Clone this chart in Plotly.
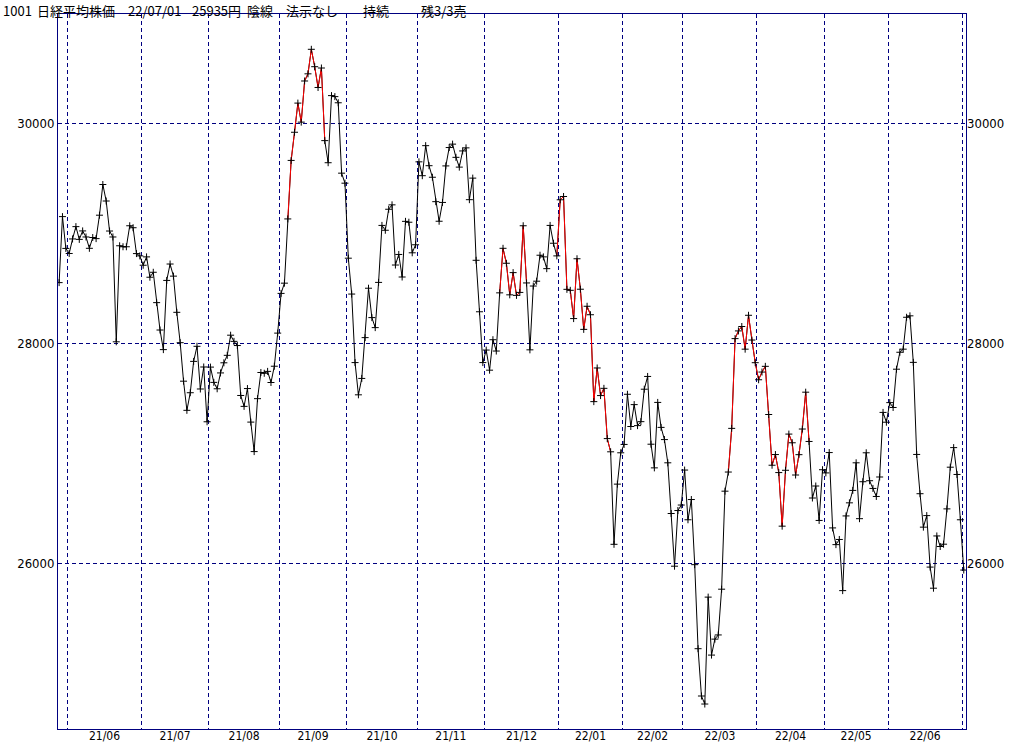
import plotly.graph_objects as go

# ---- data: Nikkei 225 daily closes (yen) ----
may21_days = [27, 28, 31]
may21 = [28549, 29149, 28860]
jun21_days = [1, 2, 3, 4, 7, 8, 9, 10, 11, 14, 15, 16, 17, 18, 21, 22, 23, 24, 25, 28, 29, 30]
jun21 = [28814, 28946, 29058, 28942, 29019, 28964, 28861, 28959, 28949, 29162, 29441, 29291, 29018, 28964,
         28011, 28884, 28875, 28875, 29066, 29048, 28813, 28792]
jul21_days = [1, 2, 5, 6, 7, 8, 9, 12, 13, 14, 15, 16, 19, 20, 21, 26, 27, 28, 29, 30]
jul21 = [28707, 28783, 28598, 28643, 28367, 28118, 27940, 28569, 28718, 28608, 28279, 28003, 27653, 27388,
         27548, 27833, 27970, 27582, 27782, 27284]
aug21_days = [2, 3, 4, 5, 6, 10, 11, 12, 13, 16, 17, 18, 19, 20, 23, 24, 25, 26, 27, 30, 31]
aug21 = [27781, 27642, 27584, 27728, 27820, 27888, 28071, 28015, 27977, 27523, 27424, 27586, 27281, 27013,
         27494, 27732, 27725, 27742, 27641, 27789, 28090]
sep21_days = [1, 2, 3, 6, 7, 8, 9, 10, 13, 14, 15, 16, 17, 21, 22, 24, 27, 28, 29, 30]
sep21 = [28451, 28544, 29128, 29660, 29916, 30181, 30008, 30382, 30447, 30670, 30512, 30323, 30500, 29840,
         29639, 30249, 30240, 30184, 29544, 29453]
oct21_days = [1, 4, 5, 6, 7, 8, 11, 12, 13, 14, 15, 18, 19, 20, 21, 22, 25, 26, 27, 28, 29]
oct21 = [28771, 28445, 27822, 27529, 27678, 28049, 28498, 28231, 28140, 28551, 29069, 29025, 29216, 29256,
         28709, 28805, 28600, 29106, 29098, 28820, 28893]
nov21_days = [1, 2, 4, 5, 8, 9, 10, 11, 12, 15, 16, 17, 18, 19, 22, 24, 25, 26, 29, 30]
nov21 = [29647, 29521, 29794, 29612, 29507, 29285, 29107, 29278, 29610, 29777, 29808, 29688, 29599, 29746,
         29774, 29303, 29499, 28752, 28284, 27822]
dec21_days = [1, 2, 3, 6, 7, 8, 9, 10, 13, 14, 15, 16, 17, 20, 21, 22, 23, 24, 27, 28, 29, 30]
dec21 = [27936, 27753, 28030, 27927, 28456, 28861, 28725, 28438, 28640, 28433, 28460, 29066, 28546, 27938,
         28518, 28562, 28798, 28783, 28676, 29069, 28907, 28792]
jan22_days = [4, 5, 6, 7, 11, 12, 13, 14, 17, 18, 19, 20, 21, 24, 25, 26, 27, 28, 31]
jan22 = [29302, 29332, 28488, 28479, 28222, 28766, 28489, 28124, 28334, 28257, 27467, 27773, 27522, 27588,
         27131, 27011, 26170, 26717, 27002]
feb22_days = [1, 2, 3, 4, 7, 8, 9, 10, 14, 15, 16, 17, 18, 21, 22, 24, 25, 28]
feb22 = [27078, 27534, 27241, 27440, 27249, 27285, 27580, 27696, 27080, 26865, 27460, 27233, 27122, 26911,
         26450, 25971, 26477, 26527]
mar22_days = [1, 2, 3, 4, 7, 8, 9, 10, 11, 14, 15, 16, 17, 18, 22, 23, 24, 25, 28, 29, 30, 31]
mar22 = [26845, 26393, 26577, 25985, 25221, 24791, 24718, 25690, 25163, 25308, 25346, 25762, 26653, 26827,
         27224, 28040, 28110, 28150, 27944, 28252, 28027, 27821]
apr22_days = [1, 4, 5, 6, 7, 8, 11, 12, 13, 14, 15, 18, 19, 20, 21, 22, 25, 26, 27, 28]
apr22 = [27666, 27736, 27788, 27350, 26889, 26986, 26822, 26335, 26843, 27172, 27093, 26800, 26985, 27218,
         27553, 27105, 26591, 26700, 26387, 26848]
may22_days = [2, 6, 9, 10, 11, 12, 13, 16, 17, 18, 19, 20, 23, 24, 25, 26, 27, 30, 31]
may22 = [26819, 27004, 26319, 26167, 26214, 25749, 26428, 26547, 26660, 26911, 26403, 26739, 27002, 26748,
         26678, 26605, 26782, 27369, 27280]
jun22_days = [1, 2, 3, 6, 7, 8, 9, 10, 13, 14, 15, 16, 17, 20, 21, 22, 23, 24, 27, 28, 29, 30]
jun22 = [27458, 27414, 27762, 27916, 27944, 28234, 28247, 27824, 26987, 26630, 26326, 26431, 25963, 25771,
         26246, 26150, 26171, 26492, 26871, 27049, 26805, 26393]
jul22_days = [1]
jul22 = [25936]

month_labels = ["21/06", "21/07", "21/08", "21/09", "21/10", "21/11", "21/12",
                "22/01", "22/02", "22/03", "22/04", "22/05", "22/06"]
y_ticks = [26000, 28000, 30000]
y_tick_text = ["26000", "28000", "30000"]
red_runs = [("2021-09-03", "2021-09-21"), ("2021-12-07", "2021-12-17"),
            ("2021-12-30", "2022-01-26"), ("2022-03-18", "2022-04-22")]
header_parts = ["1001", "日経平均株価", "22/07/01", "25935円", "陰線", "法示なし", "持続", "残3/3売"]

months = [("2021-05", may21_days, may21), ("2021-06", jun21_days, jun21), ("2021-07", jul21_days, jul21),
          ("2021-08", aug21_days, aug21), ("2021-09", sep21_days, sep21), ("2021-10", oct21_days, oct21),
          ("2021-11", nov21_days, nov21), ("2021-12", dec21_days, dec21), ("2022-01", jan22_days, jan22),
          ("2022-02", feb22_days, feb22), ("2022-03", mar22_days, mar22), ("2022-04", apr22_days, apr22),
          ("2022-05", may22_days, may22), ("2022-06", jun22_days, jun22), ("2022-07", jul22_days, jul22)]

dates, closes, month_start = [], [], []
for ym, days, vals in months:
    month_start.append(len(dates))
    for d, v in zip(days, vals):
        dates.append(f"{ym}-{d:02d}")
        closes.append(v)
idx = list(range(len(closes)))

# month boundaries (between last day of previous month and first day of month)
bounds = [s - 0.5 for s in month_start[1:]]
mids = [(bounds[i] + bounds[i + 1]) / 2 for i in range(len(bounds) - 1)]

red_y = [None] * len(closes)
for a, b in red_runs:
    ia, ib = dates.index(a), dates.index(b)
    for i in range(ia, ib + 1):
        red_y[i] = closes[i]

NAVY = "#000080"
fig = go.Figure()
fig.add_trace(go.Scatter(x=idx, y=closes, mode="lines", line=dict(color="black", width=1),
                         text=dates, hoverinfo="text+y", showlegend=False))
fig.add_trace(go.Scatter(x=idx, y=red_y, mode="lines", line=dict(color="#ff0000", width=1),
                         connectgaps=False, hoverinfo="skip", showlegend=False))
fig.add_trace(go.Scatter(x=idx, y=closes, mode="markers",
                         marker=dict(symbol="cross-thin", size=5, line=dict(color="black", width=1), color="black"),
                         text=dates, hoverinfo="text+y", showlegend=False))
# invisible trace to anchor right-hand axis
fig.add_trace(go.Scatter(x=[idx[0]], y=[closes[0]], yaxis="y2", mode="markers",
                         marker=dict(opacity=0), hoverinfo="skip", showlegend=False))

xr = [-0.33, len(closes) - 0.33]
yr = [24491, 30991]
FONT = "Liberation Sans Narrow, DejaVu Sans Condensed, Arial Narrow, sans-serif"
ytickfont = dict(family=FONT, size=13, color="black")
xtickfont = dict(family=FONT, size=12, color="black")
fig.update_layout(
    width=1024, height=745,
    margin=dict(l=58, r=58, t=14, b=16, pad=0, autoexpand=False),
    paper_bgcolor="white", plot_bgcolor="white",
    xaxis=dict(range=xr, tickmode="array", tickvals=mids, ticktext=month_labels, ticks="",
               showgrid=False, zeroline=False, showline=True, mirror=True, linecolor=NAVY, linewidth=1,
               tickfont=xtickfont, automargin=False, ticklabelstandoff=-4,
               minor=dict(tickmode="array", tickvals=bounds, showgrid=True, gridcolor=NAVY,
                          griddash="4px,3px", gridwidth=1, ticks="")),
    yaxis=dict(range=yr, tickmode="array", tickvals=y_ticks, ticktext=y_tick_text, ticks="",
               showgrid=True, gridcolor=NAVY, automargin=False,
               griddash="4px,3px", gridwidth=1, zeroline=False, showline=True, mirror=True,
               linecolor=NAVY, linewidth=1, tickfont=ytickfont),
    yaxis2=dict(range=yr, overlaying="y", side="right", tickmode="array", tickvals=y_ticks,
                ticktext=y_tick_text, ticks="", automargin=False,
                showgrid=False, zeroline=False, showline=False, tickfont=ytickfont),
)

header_x = [2, 36, 127, 191, 246, 285, 362, 420]
for txt, px in zip(header_parts, header_x):
    fig.add_annotation(text=txt, xref="paper", yref="paper", x=(px - 58) / 908, y=1 + 14 / 715,
                       xanchor="left", yanchor="top", showarrow=False, borderpad=0,
                       font=dict(family="Noto Sans CJK JP", size=13, color="black"))

fig.write_html("out.html", config={"displayModeBar": False},
               post_script="document.body.style.margin='0';")
